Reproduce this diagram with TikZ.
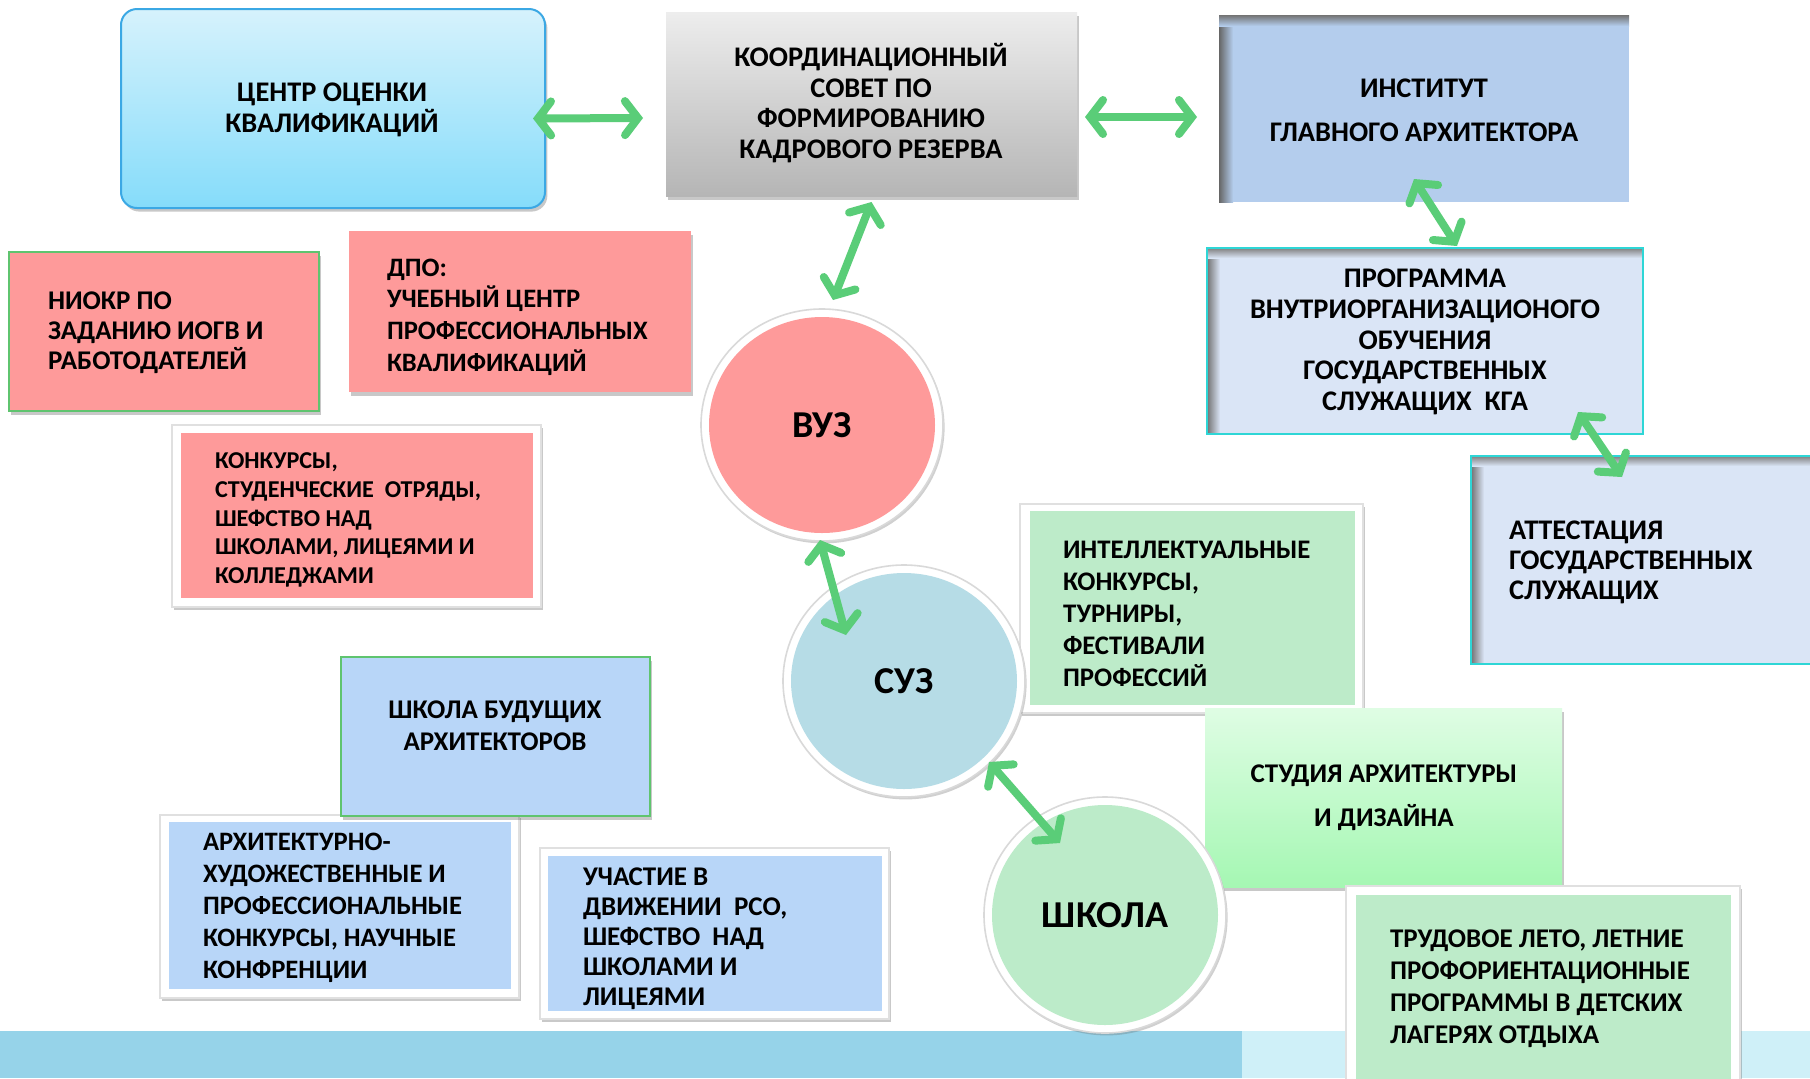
\documentclass[tikz,border=0pt]{standalone}
\usepackage{fontspec}
\setmainfont{Carlito}
\usetikzlibrary{arrows.meta,shadows,calc,fit,shapes.geometric}
\definecolor{pinkf}{HTML}{FE9A9A}
\definecolor{greenf}{HTML}{BDEBC9}
\definecolor{bluef}{HTML}{B8D6F8}
\definecolor{instf}{HTML}{B4CDED}
\definecolor{progf}{HTML}{DAE5F6}
\definecolor{cyanb}{HTML}{2ED6D6}
\definecolor{greenb}{HTML}{5FC46F}
\definecolor{arrowc}{HTML}{5ACD78}
\definecolor{suzf}{HTML}{B6DCE6}
\definecolor{shkf}{HTML}{BCEBC9}
\definecolor{banda}{HTML}{96D3E9}
\definecolor{bandb}{HTML}{CFF0F8}
\definecolor{centb}{HTML}{3BA8E4}
\definecolor{centtop}{HTML}{D6F2FC}
\definecolor{centbot}{HTML}{85DCFA}
\definecolor{studtop}{HTML}{DFFDE4}
\definecolor{studbot}{HTML}{A5F7B3}
\begin{document}
\begin{tikzpicture}[x=0.5pt,y=-0.5pt,
  every node/.style={inner sep=0pt,outer sep=0pt},
  lbl/.style={font=\fontsize{13.5}{15}\selectfont\bfseries, align=left},
  clbl/.style={font=\fontsize{13.5}{15}\selectfont\bfseries, align=center},
  toplbl/.style={font=\fontsize{14.2}{15.2}\selectfont\bfseries, align=center},
  big/.style={font=\fontsize{19}{22}\selectfont\bfseries},
  shd/.style={drop shadow={shadow xshift=1.2pt,shadow yshift=-1.8pt,opacity=0.3,fill=black!70}},
  plainbox/.style={rectangle,shd},
  frame/.style={rectangle,fill=white,draw=black!12,line width=0.8pt,drop shadow={shadow xshift=0.8pt,shadow yshift=-1.4pt,opacity=0.35,fill=black!60}},
  ring/.style={ellipse,fill=white,draw=black!15,line width=0.8pt,drop shadow={shadow xshift=0.8pt,shadow yshift=-1.2pt,opacity=0.3,fill=black!60}},
  disc/.style={ellipse},
  link/.style={arrowc,line width=4pt,line cap=round,
    {Straight Barb[length=6.5pt,width=17pt,line width=4pt,line cap=round]}-{Straight Barb[length=6.5pt,width=17pt,line width=4pt,line cap=round]}},
]
\path[use as bounding box,fill=white] (0,0) rectangle (1810,1078);
% bottom band
\fill[banda] (0,1031) rectangle (1242,1078);
\fill[bandb] (1242,1031) rectangle (1810,1078);

% top row
\node[fit={(121,9) (545,208)},rectangle,rounded corners=8pt,top color=centtop,bottom color=centbot,draw=centb,line width=1pt,shd] (A) {};
\node[toplbl] (At) at (332,110) {ЦЕНТР ОЦЕНКИ\\КВАЛИФИКАЦИЙ};

\node[fit={(666,12) (1077,196)},plainbox,top color=black!7,bottom color=black!29] (B) {};
\node[toplbl] (Bt) at (871,103) {КООРДИНАЦИОННЫЙ\\СОВЕТ ПО\\ФОРМИРОВАНИЮ\\КАДРОВОГО РЕЗЕРВА};

\node[fit={(1219,15) (1629,202)},rectangle,fill=instf] (C) {};
\shade[left color=black!60,right color=instf] (1219,15) rectangle (1233,202);
\shade[top color=black!55,bottom color=instf] (1219,15) rectangle (1629,26);
\node[toplbl] (Ct) at (1424,110) {ИНСТИТУТ\\[2.4mm]ГЛАВНОГО АРХИТЕКТОРА};

\node[fit={(1207,248) (1643,434)},rectangle,fill=progf] (D) {};
\shade[left color=black!55,right color=progf] (1207,248) rectangle (1220,434);
\shade[top color=black!50,bottom color=progf] (1207,248) rectangle (1643,258);
\draw[cyanb,line width=1pt] (D.south west) rectangle (D.north east);
\node[toplbl,font=\fontsize{14.2}{15.4}\selectfont\bfseries] (Dt) at (1425,342) {ПРОГРАММА\\ВНУТРИОРГАНИЗАЦИОНОГО\\ОБУЧЕНИЯ\\ГОСУДАРСТВЕННЫХ\\СЛУЖАЩИХ\ \ КГА};

\node[fit={(1471,456) (1815,664)},rectangle,fill=progf] (E) {};
\shade[left color=black!55,right color=progf] (1471,456) rectangle (1484,664);
\shade[top color=black!50,bottom color=progf] (1471,456) rectangle (1815,466);
\draw[cyanb,line width=1pt] (1815,456) -- (1471,456) -- (1471,664) -- (1815,664);
\node[lbl,anchor=west,font=\fontsize{14.2}{15}\selectfont\bfseries] (Et) at (1509,562) {АТТЕСТАЦИЯ\\ГОСУДАРСТВЕННЫХ\\СЛУЖАЩИХ};

% pink boxes
\node[fit={(9,252) (319,411)},plainbox,fill=pinkf,draw=greenb,line width=1pt] (F) {};
\node[lbl,anchor=west] (Ft) at (48,333) {НИОКР ПО\\ЗАДАНИЮ ИОГВ И\\РАБОТОДАТЕЛЕЙ};

\node[fit={(349,231) (691,392)},plainbox,fill=pinkf] (G) {};
\node[lbl,anchor=west,font=\fontsize{13.3}{15.8}\selectfont\bfseries] (Gt) at (387,317) {ДПО:\\УЧЕБНЫЙ ЦЕНТР\\ПРОФЕССИОНАЛЬНЫХ\\КВАЛИФИКАЦИЙ};

\node[fit={(172,425) (541,607)},frame] (Ho) {};
\node[fit={(181,433) (533,598)},rectangle,fill=pinkf] (H) {};
\node[lbl,anchor=west,font=\fontsize{12.1}{14.4}\selectfont\bfseries] (Ht) at (215,520) {КОНКУРСЫ,\\СТУДЕНЧЕСКИЕ\ \ ОТРЯДЫ,\\ШЕФСТВО НАД\\ШКОЛАМИ, ЛИЦЕЯМИ И\\КОЛЛЕДЖАМИ};

% green boxes
\node[fit={(1020,504) (1363,713)},frame] (Io) {};
\node[fit={(1030,511) (1355,705)},rectangle,fill=greenf] (I) {};
\node[lbl,anchor=west,font=\fontsize{13.4}{16}\selectfont\bfseries] (It) at (1063,614) {ИНТЕЛЛЕКТУАЛЬНЫЕ\\КОНКУРСЫ,\\ТУРНИРЫ,\\ФЕСТИВАЛИ\\ПРОФЕССИЙ};

\node[fit={(1205,708) (1562,887)},plainbox,top color=studtop,bottom color=studbot] (J) {};
\node[clbl] (Jt) at (1384,798) {СТУДИЯ АРХИТЕКТУРЫ\\[2.4mm]И ДИЗАЙНА};

\node[fit={(1346,886) (1740,1090)},frame] (Ko) {};
\node[fit={(1356,895) (1731,1090)},rectangle,fill=greenf] (K) {};
\node[lbl,anchor=west,font=\fontsize{13.5}{16}\selectfont\bfseries] (Kt) at (1390,989) {ТРУДОВОЕ ЛЕТО, ЛЕТНИЕ\\ПРОФОРИЕНТАЦИОННЫЕ\\ПРОГРАММЫ В ДЕТСКИХ\\ЛАГЕРЯХ ОТДЫХА};

% blue boxes
\node[fit={(160,815) (519,998)},frame] (Mo) {};
\node[fit={(169,822) (511,989)},rectangle,fill=bluef] (M) {};
\node[lbl,anchor=west,font=\fontsize{13.3}{16}\selectfont\bfseries] (Mt) at (203,908) {АРХИТЕКТУРНО-\\ХУДОЖЕСТВЕННЫЕ И\\ПРОФЕССИОНАЛЬНЫЕ\\КОНКУРСЫ, НАУЧНЫЕ\\КОНФРЕНЦИИ};

\node[fit={(341,657) (650,816)},plainbox,fill=bluef,draw=greenb,line width=1pt] (L) {};
\node[clbl,font=\fontsize{13.5}{16}\selectfont\bfseries] (Lt) at (495,726) {ШКОЛА БУДУЩИХ\\АРХИТЕКТОРОВ};

\node[fit={(540,848) (889,1019)},frame] (No) {};
\node[fit={(548,856) (882,1011)},rectangle,fill=bluef] (N) {};
\node[lbl,anchor=west] (Nt) at (583,939) {УЧАСТИЕ В\\ДВИЖЕНИИ\ \ РСО,\\ШЕФСТВО\ \ НАД\\ШКОЛАМИ И\\ЛИЦЕЯМИ};

% circles
\node[ring,minimum width=121pt,minimum height=116pt] (vuzr) at (822,425) {};
\node[disc,fill=pinkf,minimum width=113pt,minimum height=108pt] (vuz) at (822,425) {};
\node[big] (vuzt) at (822,425) {ВУЗ};
\node[ring,minimum width=121pt,minimum height=116pt] (suzr) at (904,681) {};
\node[disc,fill=suzf,minimum width=113pt,minimum height=108pt] (suz) at (904,681) {};
\node[big] (suzt) at (904,681) {СУЗ};
\node[ring,minimum width=121pt,minimum height=118pt] (shkr) at (1105,915) {};
\node[disc,fill=shkf,minimum width=113pt,minimum height=110pt] (shk) at (1105,915) {};
\node[big] (shkt) at (1105,915) {ШКОЛА};

% arrows
\draw[link] ($(A.east)+(-12,10)$) -- ($(B.west)+(-23,14)$);
\draw[link] ($(B.east)+(8,13)$) -- ($(C.west)+(-22,8.5)$);
\draw[link] ($(B.south)+(0,6)$) -- ($(vuz.center)+(11,-125)$);
\draw[link] ($(C.south)+(-10,-23)$) -- ($(D.north)+(32,-2)$);
\draw[link] ($(D.south)+(153,-22)$) -- ($(E.north west)+(151,21)$);
\draw[link] ($(vuz.center)+(-2,115)$) -- ($(suz.center)+(-58,-46)$);
\draw[link] ($(suz.center)+(85,81)$) -- ($(shk.center)+(-45,-72)$);
\end{tikzpicture}
\end{document}
